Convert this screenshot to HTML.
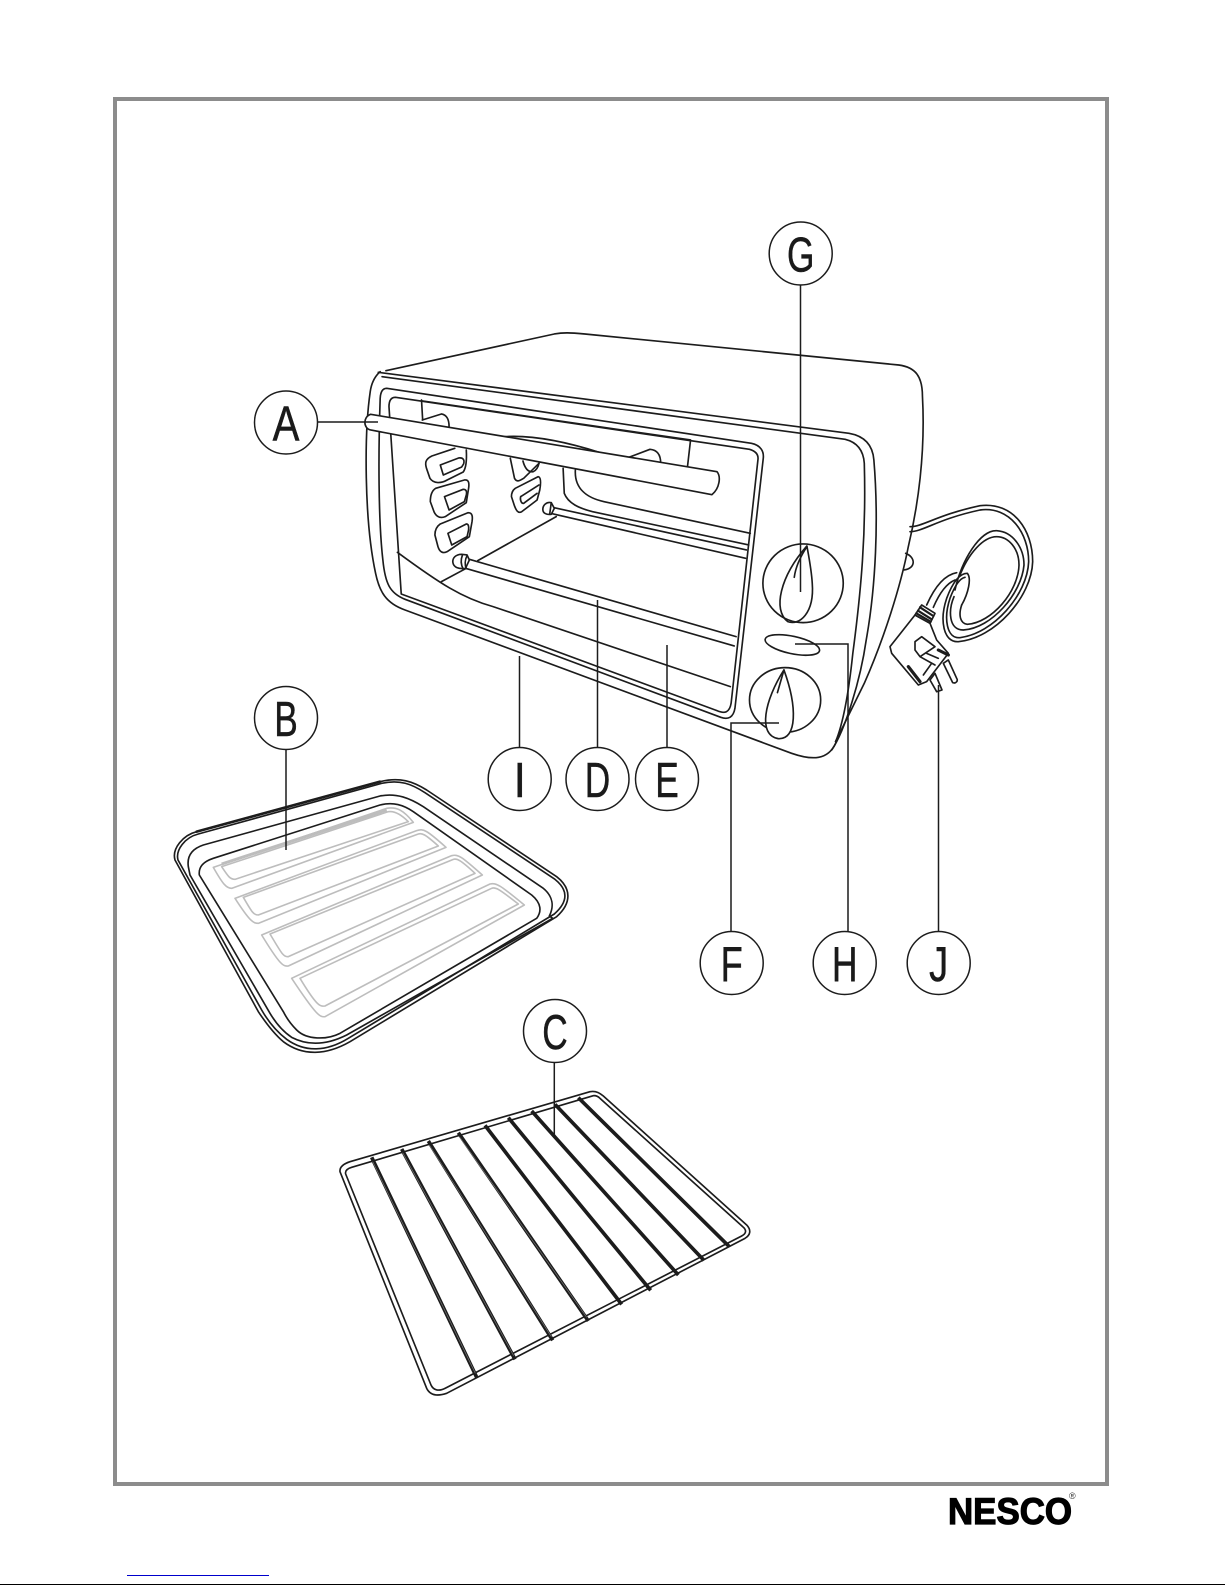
<!DOCTYPE html>
<html><head><meta charset="utf-8"><style>
html,body{margin:0;padding:0;background:#fff}
svg{display:block}
.l,.l *{fill:none;stroke:#1c1c1c;stroke-width:1.65;vector-effect:non-scaling-stroke;stroke-linejoin:round;stroke-linecap:round}
.w{fill:#fff!important}
.g,.g *{fill:none;stroke:#bdbdbd;stroke-width:1.6;vector-effect:non-scaling-stroke;stroke-linejoin:round}
.t{font-family:"Liberation Sans",sans-serif;font-size:49px;fill:#1a1a1a;stroke:#1a1a1a;stroke-width:.5;text-anchor:middle}
</style></head><body>
<svg width="1225" height="1585" viewBox="0 0 1225 1585" xmlns="http://www.w3.org/2000/svg">
<rect x="115" y="99" width="992" height="1385" fill="none" stroke="#8c8c8c" stroke-width="4"/>

<!-- OVEN -->
<g class="l" transform="translate(340 320) scale(.3827 .3333)">
<path d="M120 152L560 42C585 37 600 38 640 42L1460 135C1505 142 1522 170 1522 230C1530 400 1510 560 1485 680C1465 800 1420 960 1370 1090L1295 1265"/>
<path d="M105 155C90 170 82 190 79 215C63 340 63 600 93 760C103 815 120 850 170 870L1180 1300C1235 1322 1275 1320 1295 1270"/>
<path d="M100 157L1330 340C1370 348 1392 375 1395 420C1408 600 1400 800 1375 960C1360 1080 1320 1230 1285 1290"/>
<path d="M110 170L1320 358C1355 368 1368 395 1370 430C1375 640 1362 810 1340 1000C1330 1110 1315 1210 1295 1265"/>
<!-- door -->
<path d="M122 205L1075 370C1100 376 1108 395 1106 415L1032 1165C1028 1192 1015 1200 995 1192L170 838C130 820 118 790 112 720C100 600 100 400 105 235C106 215 112 205 122 205Z"/>
<path d="M145 232L1070 388C1088 394 1094 405 1092 420L1022 1150C1018 1178 1005 1182 985 1172L160 822L128 260C128 240 135 232 145 232Z"/>
<!-- inner left / top panel -->
<path d="M213 240L216 300M215 243L916 360L908 440M215 300L265 282C280 285 285 300 285 320M755 412L810 388C830 390 838 405 838 430M430 350C500 345 590 365 680 398"/>
<!-- holes left -->
<path d="M300 385L240 408C222 418 222 430 226 445L235 475C245 492 265 490 280 480L322 456C332 440 331 410 330 390"/>
<path d="M262 435L310 414C322 412 326 420 323 432L318 441L270 465Z"/>
<path d="M250 505L325 480C337 478 338 490 336 505L330 548L275 590C258 598 248 585 244 570L236 545C236 525 240 512 250 505Z"/>
<path d="M273 530L322 508C330 508 332 515 330 525L325 545L285 570Z"/>
<path d="M262 612L335 578C346 578 347 590 345 605L338 650L280 695C268 702 260 695 256 680L248 645C248 630 252 620 262 612Z"/>
<path d="M282 640L330 612C336 612 337 620 336 630L332 650L292 675Z"/>
<!-- holes mid -->
<path d="M445 415L456 475C462 488 470 482 480 475L520 430"/>
<path d="M478 423C482 440 490 458 505 455C515 450 518 440 520 430"/>
<path d="M458 505L518 470C526 472 525 490 522 510L515 540L475 575C465 582 460 570 456 558L448 530C448 518 452 510 458 505Z"/>
<path d="M472 530L520 495M515 520L480 550C474 552 470 540 472 530"/>
<!-- back wall -->
<path d="M615 450C612 510 650 535 690 545L1072 640M583 445L586 520C596 550 625 565 660 575L1068 675"/>
<!-- floor -->
<path d="M150 697C260 790 320 835 400 860L1020 1100"/>
<path d="M565 590L360 722M330 745L265 785"/>
<!-- back rod -->
<path d="M555 562L1062 690M550 580L1060 715"/>
<path class="w" d="M552 548C540 545 530 555 530 568C530 580 540 585 552 583L560 565Z"/>
<path d="M552 548L548 582"/>
<!-- front rod -->
<path d="M338 718L1035 950M328 745L1030 978"/>
<path class="w" d="M318 703C302 703 293 715 295 728C297 742 310 748 328 745L338 720L332 705Z"/>
<path d="M320 705C315 720 316 735 322 747M332 707C326 720 326 735 330 746"/>
<!-- handle -->
<path class="w" d="M80 283L985 455C996 470 992 505 972 524L80 330C60 325 60 290 80 283Z"/>
<!-- knobs -->
<ellipse class="w" cx="1210" cy="790" rx="105" ry="118"/>
<path d="M1220 678C1150 770 1130 870 1170 905C1200 918 1240 880 1234 790C1232 750 1225 710 1220 678Z"/>
<path d="M1220 680C1200 715 1190 745 1187 772"/>
<ellipse class="w" cx="1182" cy="975" rx="73" ry="26" transform="rotate(14 1182 975)"/>
<ellipse class="w" cx="1163" cy="1140" rx="93" ry="97"/>
<path class="w" d="M1160 1050C1110 1140 1090 1245 1145 1256C1195 1260 1195 1160 1160 1050Z"/>
<path d="M1160 1050L1143 1118"/>
<path d="M1478 700C1505 712 1505 745 1474 750"/>
</g>

<!-- TRAY -->
<g class="l" transform="translate(160 760) scale(.33333)">
<path d="M45 300C35 265 70 225 110 215L660 65C720 50 760 65 800 90L1190 350C1235 385 1235 430 1190 470L570 845C500 885 430 890 370 845C340 820 315 785 295 755Z"/>
<path d="M54 300C46 270 75 232 115 222L665 70C720 58 755 72 795 98L1185 358C1225 390 1225 425 1183 462L565 835C500 875 435 878 380 838C350 815 325 785 305 750Z"/>
<path d="M85 320C80 285 100 265 130 255L660 108C710 98 750 115 790 140L1150 385C1180 410 1182 440 1168 468L1178 475L560 825C500 855 445 858 395 832C365 812 345 785 330 760L90 345L85 320"/>
<path d="M118 345C115 320 130 305 160 295L660 135C700 125 730 135 760 155L1115 405C1145 430 1145 455 1130 475L540 820C500 840 440 840 410 810C395 795 380 775 370 755Z"/>
<path d="M110 215L660 65" style="stroke-width:2.6"/>
</g>
<g class="g" transform="translate(160 760) scale(.33333)">
<path d="M160 322L680 145C710 140 730 150 760 187L215 385C200 385 190 375 160 322Z"/>
<path d="M185 320L685 155C705 152 725 165 745 185L225 358C210 358 205 350 185 320Z"/>
<path d="M185 312L680 150" style="stroke-width:3"/>
<path d="M225 415L770 212C790 205 800 210 858 262L295 490C280 490 270 485 225 415Z"/>
<path d="M250 412L775 222C785 218 795 222 835 258L295 465C280 465 275 455 250 412Z"/>
<path d="M305 525L875 287C895 282 905 290 967 345L385 618C370 620 360 615 305 525Z"/>
<path d="M330 522L880 298C890 295 900 298 945 340L385 590C370 592 365 580 330 522Z"/>
<path d="M395 655L990 372C1010 368 1020 375 1093 435L495 770C480 772 470 768 395 655Z"/>
<path d="M420 655L995 385C1005 380 1015 385 1075 432L495 738C480 740 470 738 420 655Z"/>
</g>

<!-- RACK -->
<g class="l" transform="translate(330 1080) scale(.33333)">
<path d="M30 275C28 258 45 250 60 245L780 35C800 32 810 40 820 48L1250 435C1264 450 1262 465 1245 475L350 940C320 950 300 945 290 925Z"/>
<path d="M47 282C44 270 55 265 65 262L790 47C800 46 805 50 810 55L1238 440C1250 450 1250 460 1235 468L345 925C325 935 310 930 303 915Z"/>
</g>
<g transform="translate(330 1080) scale(.33333)" fill="none">
<g stroke="#1c1c1c" stroke-width="11">
<path d="M125 232L440 892M215 207L555 838M295 183L668 781M385 158L775 723M465 136L875 673M535 113L962 631M605 93L1045 585M675 73L1122 541M745 53L1198 500"/>
</g>
<g stroke="#777" stroke-width="2">
<path d="M128 245L436 880M218 218L551 827M298 195L664 770M388 170L770 712"/>
</g>
</g>

<!-- CORD / PLUG -->
<g class="l" transform="translate(880 490) scale(.33333)">
<path d="M90 110C130 110 170 75 300 47C400 35 458 120 458 215C455 320 345 445 235 455C190 458 178 390 200 325C215 285 235 250 262 250C275 265 265 310 245 345"/>
<path d="M90 125C130 125 170 88 300 60C390 48 446 130 446 215C442 315 340 430 240 443C200 447 190 385 210 325C225 285 240 265 255 262"/>
<path d="M225 300C245 210 300 120 350 122C400 125 432 175 432 225C425 310 335 415 250 420C205 420 205 360 222 320"/>
<path d="M245 345C235 375 240 400 262 403C335 398 415 305 417 225C417 175 385 140 350 140C310 140 265 190 238 260"/>
<path d="M140 345C160 300 190 255 230 248M160 352C178 310 200 280 225 270"/>
<path class="w" d="M190 520L218 578C228 582 235 572 230 565L205 510Z"/>
<path class="w" d="M150 570L170 605L186 600L165 550Z"/>
<path class="w" d="M105 375L150 400L170 450L205 490L140 575L115 585L35 490L30 470Z"/>
<path class="w" d="M125 345L165 370L150 400L105 375Z"/>
<path d="M120 352L160 378M114 362L155 388M109 370L152 395" style="stroke-width:2.2"/>
<path d="M105 455L125 440L165 470L120 500L105 480ZM140 490L175 505M120 500L165 525M155 520L130 555"/>
<path d="M85 530L120 575" style="stroke-width:3.2"/>
<path d="M175 480L205 495" style="stroke-width:3.2"/>
</g>

<!-- LEADERS -->
<g stroke="#1c1c1c" stroke-width="1.5" fill="none">
<path d="M318 422H378M800.500 285V592M286 750V850M519.500 747V656M597.500 747V600M667 747V645"/>
<path d="M795 644H848V931M779 723H731V931"/>
<path d="M938.500 931V685M554.300 1000V1137"/>
</g>

<!-- CIRCLES & LETTERS -->
<g fill="#fff" stroke="#1c1c1c" stroke-width="1.5">
<circle cx="286" cy="422.500" r="31.500"/><circle cx="800.700" cy="253.500" r="31.500"/><circle cx="286" cy="718" r="31.500"/>
<circle cx="519.700" cy="779" r="31.500"/><circle cx="597.500" cy="779" r="31.500"/><circle cx="667" cy="779" r="31.500"/>
<circle cx="731.700" cy="963" r="31.500"/><circle cx="844.700" cy="963" r="31.500"/><circle cx="938.700" cy="963" r="31.500"/>
<circle cx="555" cy="1031" r="31.500"/>
</g>
<g class="t">
<text transform="translate(286 440.500) scale(.82 1)">A</text>
<text transform="translate(800.700 271.500) scale(.72 1)">G</text>
<text transform="translate(286 736) scale(.72 1)">B</text>
<text transform="translate(519.700 797) scale(.9 1)">I</text>
<text transform="translate(597.500 797) scale(.72 1)">D</text>
<text transform="translate(667 797) scale(.72 1)">E</text>
<text transform="translate(731.700 981) scale(.74 1)">F</text>
<text transform="translate(844.700 981) scale(.72 1)">H</text>
<text transform="translate(938.700 981) scale(.78 1)">J</text>
<text transform="translate(555 1049) scale(.72 1)">C</text>
</g>

<!-- LOGO -->
<text x="948" y="1524" font-family="'Liberation Sans',sans-serif" font-weight="700" font-size="37" fill="#000" stroke="#000" stroke-width="1.2" textLength="124" lengthAdjust="spacingAndGlyphs">NESCO</text>
<text x="1069" y="1499" font-family="'Liberation Sans',sans-serif" font-size="9" fill="#333">®</text>

<rect x="127" y="1575" width="142" height="1" fill="#0000cc"/>
<rect x="0" y="1584" width="1225" height="1" fill="#000"/>
</svg>
</body></html>
